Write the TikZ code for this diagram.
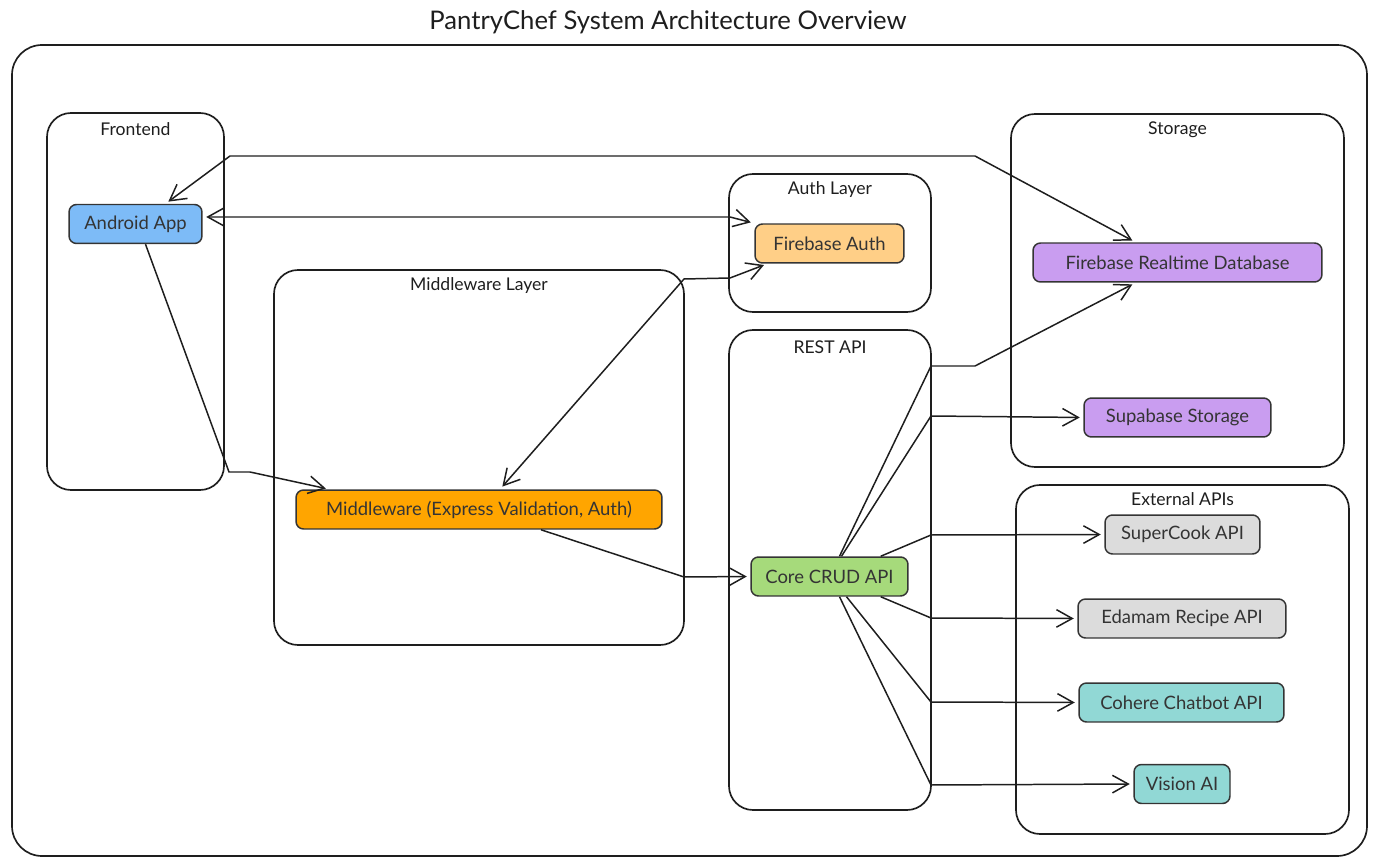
\documentclass[tikz,border=0pt]{standalone}
\usepackage{fontspec}
\setmainfont{Lato}
\usepackage{xcolor}
\usetikzlibrary{arrows.meta}
\usetikzlibrary{calc}

\definecolor{inkgrey}{HTML}{1E1E1E}
\definecolor{boxgrey}{HTML}{343434}
\definecolor{androidblue}{HTML}{7DBBF7}
\definecolor{authorange}{HTML}{FFCF87}
\definecolor{midorange}{HTML}{FFA500}
\definecolor{crudgreen}{HTML}{A6DA7B}
\definecolor{storepurple}{HTML}{C99DF0}
\definecolor{apigrey}{HTML}{DCDCDC}
\definecolor{apiteal}{HTML}{91D8D5}

\tikzset{
  frame/.style={draw=inkgrey,line width=0.95pt,rounded corners=0.48cm},
  framelabel/.style={text=inkgrey,font=\fontsize{10}{12}\selectfont},
  svc/.style={draw=boxgrey,line width=0.85pt,rounded corners=0.15cm,
              minimum height=0.78cm,inner sep=0pt,text=boxgrey,
              font=\fontsize{10.5}{12}\selectfont}
}

\begin{document}
\begin{tikzpicture}[x=0.02cm,y=-0.02cm]
\useasboundingbox (0,0) rectangle (1377,868);

% groups
\draw[frame,rounded corners=0.6cm] (12,45) rectangle (1367,856);
\draw[frame] (47,113) rectangle (224,490);
\draw[frame] (729,174) rectangle (931,312);
\draw[frame] (274,270) rectangle (684,645);
\draw[frame] (729,330) rectangle (931,810);
\draw[frame] (1011,114) rectangle (1344,467);
\draw[frame] (1016,485) rectangle (1349,834);

\node[text=inkgrey,font=\fontsize{14.6}{17}\selectfont] (title) at (668,22) {PantryChef System Architecture Overview};

\begin{scope}[every node/.style={framelabel}]
    \node (frontendlbl) at (135.5,129) {Frontend};
    \node (authlbl) at (830,190) {Auth Layer};
    \node (middlelbl) at (479,286) {Middleware Layer};
    \node (restlbl) at (830,347) {REST API};
    \node (storagelbl) at (1177.5,130) {Storage};
    \node (externallbl) at (1182.5,499) {External APIs};
    \end{scope}

\begin{scope}[every node/.style={svc}]
    \node[fill=androidblue,minimum width=2.66cm] (android) at (135.5,224) {Android App};
    \node[fill=authorange,minimum width=2.98cm] (fbauth) at (829.5,243.5) {Firebase Auth};
    \node[fill=midorange,minimum width=7.32cm] (middleware) at (479,509.5) {Middleware (Express Validation, Auth)};
    \node[fill=crudgreen,minimum width=3.14cm] (crud) at (829.5,576.5) {Core CRUD API};
    \node[fill=storepurple,minimum width=5.78cm] (fbdb) at (1177.5,262.5) {Firebase Realtime Database};
    \node[fill=storepurple,minimum width=3.74cm] (supabase) at (1177.5,417.5) {Supabase Storage};
    \node[fill=apigrey,minimum width=3.10cm] (supercook) at (1182.5,534.5) {SuperCook API};
    \node[fill=apigrey,minimum width=4.16cm] (edamam) at (1182,618.5) {Edamam Recipe API};
    \node[fill=apiteal,minimum width=4.10cm] (cohere) at (1181.5,702.5) {Cohere Chatbot API};
    \node[fill=apiteal,minimum width=1.92cm] (vision) at (1182,784) {Vision AI};
    \end{scope}

\begin{scope}[>={Straight Barb[length=9pt,width=10pt,line width=0.85pt]},
              every path/.style={draw=inkgrey,line width=0.85pt,shorten >=2pt}]
    \draw [<->,shorten <=2pt] ($(android.north)+(30,0)$) -- (230,156) -- (975,156) -- ($(fbdb.north)+(-42,0)$);
    \draw [<->,shorten <=2pt] ($(android.east)+(0,-7)$) -- (730,217) -- (fbauth.north west);
    \draw [->] ($(android.south)+(10,0)$) -- (229,472) -- (250,472) -- ($(middleware.north west)+(34,0)$);
    \draw [<->,shorten <=2pt] ($(middleware.north)+(21,0)$) -- (684,279) -- (730,278) -- ($(fbauth.south west)+(13,0)$);
    \draw [->] ($(middleware.south)+(62,0)$) -- (684,577) -- (crud.west);

    \draw [->] ($(crud.north)+(10,0)$) -- (931,366) -- (975,366) -- ($(fbdb.south)+(-42,0)$);
    \draw [->] ($(crud.north)+(12,0)$) -- (931,416) -- (supabase.west);
    \draw [->] ($(crud.north east)+(-28,0)$) -- (931,535) -- (supercook.west);
    \draw [->] ($(crud.south east)+(-28,0)$) -- (931,618) -- (edamam.west);
    \draw [->] ($(crud.south)+(17,0)$) -- (931,702) -- (cohere.west);
    \draw [->] ($(crud.south)+(10,0)$) -- (931,785) -- (vision.west);
    \end{scope}

\end{tikzpicture}
\end{document}
